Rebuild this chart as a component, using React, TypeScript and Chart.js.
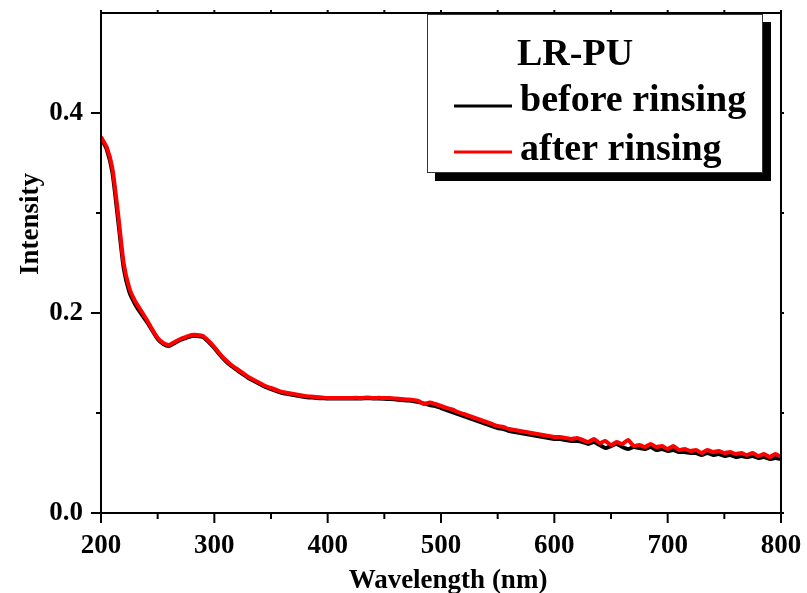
import React, { useEffect, useRef } from 'react';
import { Chart, registerables } from 'chart.js';

Chart.register(...registerables);

const wavelengths = [
  200, 205, 210, 215, 220, 225, 230, 235, 240, 245,
  250, 255, 260, 265, 270, 275, 280, 285, 290, 295,
  300, 305, 310, 315, 320, 325, 330, 335, 340, 345,
  350, 355, 360, 365, 370, 375, 380, 385, 390, 395,
  400, 405, 410, 415, 420, 425, 430, 435, 440, 445,
  450, 455, 460, 465, 470, 475, 480, 485, 490, 495,
  500, 505, 510, 515, 520, 525, 530, 535, 540, 545,
  550, 555, 560, 565, 570, 575, 580, 585, 590, 595,
  600, 605, 610, 615, 620, 625, 630, 635, 640, 645,
  650, 655, 660, 665, 670, 675, 680, 685, 690, 695,
  700, 705, 710, 715, 720, 725, 730, 735, 740, 745,
  750, 755, 760, 765, 770, 775, 780, 785, 790, 795,
  800,
];

const beforeRinsing = [
  0.375, 0.364, 0.341, 0.294, 0.245, 0.221, 0.209, 0.2, 0.192, 0.183,
  0.174, 0.169, 0.167, 0.17, 0.173, 0.175, 0.177, 0.177, 0.176, 0.171,
  0.165, 0.158, 0.152, 0.147, 0.143, 0.139, 0.135, 0.132, 0.129, 0.126,
  0.124, 0.122, 0.12, 0.119, 0.118, 0.117, 0.116, 0.1155, 0.115, 0.1148,
  0.1145, 0.1145, 0.1145, 0.1145, 0.1145, 0.1145, 0.1145, 0.1148, 0.1145, 0.1145,
  0.1143, 0.114, 0.1135, 0.113, 0.1125, 0.112, 0.111, 0.1095, 0.108, 0.107,
  0.105, 0.103, 0.101, 0.099, 0.097, 0.095, 0.093, 0.091, 0.089, 0.087,
  0.085, 0.084, 0.082, 0.081, 0.08, 0.079, 0.078, 0.077, 0.076, 0.075,
  0.074, 0.074, 0.073, 0.072, 0.072, 0.071, 0.069, 0.071, 0.068, 0.065,
  0.067, 0.069, 0.066, 0.064, 0.066, 0.065, 0.064, 0.066, 0.063, 0.064,
  0.062, 0.063, 0.061, 0.061, 0.06, 0.06, 0.058, 0.06, 0.058, 0.059,
  0.057, 0.058, 0.056, 0.057, 0.056, 0.057, 0.055, 0.056, 0.054, 0.055,
  0.054,
];

const afterRinsing = [
  0.376, 0.366, 0.345, 0.3, 0.25, 0.225, 0.212, 0.203, 0.194, 0.184,
  0.175, 0.17, 0.168, 0.171, 0.174, 0.176, 0.178, 0.178, 0.177, 0.172,
  0.166, 0.159, 0.153, 0.148, 0.144, 0.14, 0.136, 0.133, 0.13, 0.127,
  0.125, 0.123, 0.121, 0.12, 0.119, 0.118, 0.117, 0.1165, 0.116, 0.1155,
  0.115, 0.115, 0.115, 0.115, 0.115, 0.1152, 0.115, 0.1155, 0.115, 0.1152,
  0.115, 0.115, 0.1145, 0.114, 0.1135, 0.113, 0.112, 0.109, 0.1105, 0.109,
  0.107, 0.105, 0.1035, 0.101, 0.099, 0.097, 0.095, 0.093, 0.091, 0.089,
  0.087, 0.086, 0.084, 0.083, 0.082, 0.081, 0.08, 0.079, 0.078, 0.077,
  0.076, 0.076, 0.075, 0.074, 0.075, 0.073, 0.071, 0.074, 0.07, 0.072,
  0.068, 0.071, 0.069, 0.073, 0.067, 0.068, 0.066, 0.069, 0.066, 0.067,
  0.064, 0.067, 0.063, 0.064, 0.062, 0.063, 0.06, 0.063, 0.061, 0.062,
  0.06, 0.061, 0.059, 0.06, 0.058, 0.06, 0.057, 0.059, 0.056, 0.059,
  0.056,
];

const xMajorTicks = [200, 300, 400, 500, 600, 700, 800];
const xMinorTicks = [250, 350, 450, 550, 650, 750];
const yMajorTicks = [0.0, 0.2, 0.4];
const yMinorTicks = [0.1, 0.3];

const seriesLabels = ['before rinsing', 'after rinsing'];
const seriesColors = ['#000000', '#ff0000'];
const legendTitle = 'LR-PU';
const xTitle = 'Wavelength (nm)';
const yTitle = 'Intensity';

const FONT = '"Liberation Serif", "Times New Roman", Times, serif';

const decorPlugin = {
  id: 'decor',
  afterDraw(chart: any) {
    const { ctx, chartArea, scales } = chart;
    const { left, right, top, bottom } = chartArea;
    const xs = scales.x;
    const ys = scales.y;
    ctx.save();

    // Legend box with shadow
    const bx = 427, by = 14, bw = 336, bh = 159;
    ctx.fillStyle = '#000';
    ctx.fillRect(bx + 8, by + 8, bw, bh);
    ctx.fillStyle = '#fff';
    ctx.fillRect(bx, by, bw, bh);
    ctx.strokeStyle = '#333';
    ctx.lineWidth = 1;
    ctx.strokeRect(bx + 0.5, by + 0.5, bw - 1, bh - 1);

    ctx.fillStyle = '#000';
    ctx.font = `bold 38px ${FONT}`;
    ctx.textAlign = 'left';
    ctx.textBaseline = 'alphabetic';
    ctx.fillText(legendTitle, 517, 65);
    const rowLine = [106, 152];
    const rowText = [111, 160];
    chart.data.datasets.forEach((ds: any, i: number) => {
      ctx.strokeStyle = ds.borderColor;
      ctx.lineWidth = 3;
      ctx.beginPath();
      ctx.moveTo(454, rowLine[i]);
      ctx.lineTo(512, rowLine[i]);
      ctx.stroke();
      ctx.fillStyle = '#000';
      ctx.fillText(ds.label, 520, rowText[i]);
    });

    // Frame
    ctx.strokeStyle = '#000';
    ctx.lineWidth = 2;
    ctx.strokeRect(left, top, right - left, bottom - top);

    // Ticks
    const line = (x1: number, y1: number, x2: number, y2: number) => {
      ctx.beginPath();
      ctx.moveTo(x1, y1);
      ctx.lineTo(x2, y2);
      ctx.stroke();
    };
    xMajorTicks.forEach((v) => {
      const px = xs.getPixelForValue(v);
      line(px, bottom, px, bottom + 10);
      line(px, top, px, top - 3);
    });
    xMinorTicks.forEach((v) => {
      const px = xs.getPixelForValue(v);
      line(px, bottom, px, bottom + 6);
      line(px, top, px, top - 3);
    });
    yMajorTicks.forEach((v) => {
      const py = ys.getPixelForValue(v);
      line(left, py, left - 10, py);
      line(right, py, right + 3, py);
    });
    yMinorTicks.forEach((v) => {
      const py = ys.getPixelForValue(v);
      line(left, py, left - 5, py);
      line(right, py, right + 3, py);
    });

    // Axis titles
    ctx.fillStyle = '#000';
    ctx.font = `bold 27px ${FONT}`;
    ctx.textAlign = 'center';
    ctx.textBaseline = 'alphabetic';
    ctx.fillText(xTitle, (left + right) / 2 + 7, 588);
    ctx.save();
    ctx.translate(38, 224);
    ctx.rotate(-Math.PI / 2);
    ctx.fillText(yTitle, 0, 0);
    ctx.restore();

    ctx.restore();
  },
};

const zeroPadding = (scale: any) => {
  scale.paddingLeft = 0;
  scale.paddingRight = 0;
  scale.paddingTop = 0;
  scale.paddingBottom = 0;
};

export default function App() {
  const canvasRef = useRef<HTMLCanvasElement | null>(null);

  useEffect(() => {
    if (!canvasRef.current) return;
    const chart = new Chart(canvasRef.current, {
      type: 'line',
      data: {
        datasets: [
          {
            label: seriesLabels[0],
            data: wavelengths.map((w, i) => ({ x: w, y: beforeRinsing[i] })),
            borderColor: seriesColors[0],
            backgroundColor: seriesColors[0],
            borderWidth: 4,
            pointRadius: 0,
            tension: 0.2,
            order: 2,
          },
          {
            label: seriesLabels[1],
            data: wavelengths.map((w, i) => ({ x: w, y: afterRinsing[i] })),
            borderColor: seriesColors[1],
            backgroundColor: seriesColors[1],
            borderWidth: 4,
            pointRadius: 0,
            tension: 0.2,
            order: 1,
          },
        ],
      },
      options: {
        animation: false,
        responsive: false,
        maintainAspectRatio: false,
        layout: { padding: { top: 13, right: 26, left: 0, bottom: 0 } },
        plugins: {
          legend: { display: false },
          tooltip: { enabled: false },
        },
        scales: {
          x: {
            type: 'linear',
            min: 200,
            max: 800,
            afterBuildTicks: (scale: any) => {
              scale.ticks = xMajorTicks.map((v) => ({ value: v }));
            },
            ticks: {
              color: '#000',
              font: { family: FONT, size: 27, weight: 'bold' },
              padding: 17,
              maxRotation: 0,
              autoSkip: false,
              callback: (v: any) => String(v),
            },
            grid: { display: false, drawTicks: false },
            border: { display: false },
            afterFit: (scale: any) => {
              scale.height = 80;
              zeroPadding(scale);
            },
          },
          y: {
            type: 'linear',
            min: 0,
            max: 0.5,
            afterBuildTicks: (scale: any) => {
              scale.ticks = yMajorTicks.map((v) => ({ value: v }));
            },
            ticks: {
              color: '#000',
              font: { family: FONT, size: 27, weight: 'bold' },
              padding: 18,
              callback: (v: any) => Number(v).toFixed(1),
            },
            grid: { display: false, drawTicks: false },
            border: { display: false },
            afterFit: (scale: any) => {
              scale.width = 101;
              zeroPadding(scale);
            },
          },
        },
      },
      plugins: [decorPlugin],
    });
    return () => chart.destroy();
  }, []);

  return (
    <div style={{ position: 'absolute', left: 0, top: 0, width: 807, height: 593, background: '#fff' }}>
      <canvas ref={canvasRef} width={807} height={593} />
    </div>
  );
}
